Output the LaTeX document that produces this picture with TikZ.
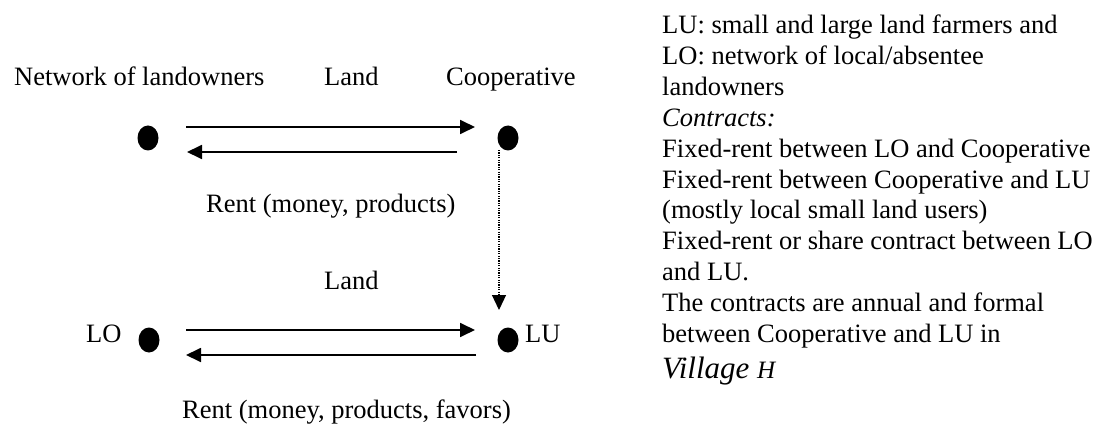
\documentclass[tikz,border=0pt]{standalone}
\usepackage{fontspec}
\setmainfont{Liberation Serif}
\usetikzlibrary{arrows.meta,shapes.geometric}
\begin{document}
\begin{tikzpicture}[x=1pt,y=-1pt,
  dot/.style={ellipse,fill=black,inner sep=0pt,minimum width=21pt,minimum height=25pt},
  lbl/.style={inner sep=0pt,anchor=base west,font=\fontsize{26.5}{31.5}\selectfont},
  arr/.style={line width=1.8pt,-{Triangle[length=15pt,width=14pt]}},
  dotarr/.style={line width=1.2pt,dash pattern=on 1.2pt off 1.2pt,-{Triangle[length=15pt,width=14pt]}}]
\useasboundingbox (0,0) rectangle (1098,425);
% dots
\node[dot] (nlo) at (148,138) {};
\node[dot] (coop) at (508,138) {};
\node[dot] (lo) at (149,340) {};
\node[dot] (lu) at (508,340) {};
% labels
\node[lbl] (tnet) at (14,86) {Network of landowners};
\node[lbl] (tland1) at (324,86) {Land};
\node[lbl] (tcoop) at (446,86) {Cooperative};
\node[lbl] (trent1) at (206,212) {Rent (money, products)};
\node[lbl] (tland2) at (324,289) {Land};
\node[lbl] (tlo) at (86,342) {LO};
\node[lbl] (tlu) at (525,342) {LU};
\node[lbl] (trent2) at (182,418) {Rent (money, products, favors)};
% arrows
\draw[arr] ([shift={(38,-11)}]nlo.center) -- ([shift={(-33,-11)}]coop.center);
\draw[arr] ([shift={(-51,14)}]coop.center) -- ([shift={(39,14)}]nlo.center);
\draw[arr] ([shift={(37,-10)}]lo.center) -- ([shift={(-33,-10)}]lu.center);
\draw[arr] ([shift={(-32,15)}]lu.center) -- ([shift={(37,15)}]lo.center);
\draw[dotarr] ([shift={(-9,12)}]coop.center) -- ([shift={(-9,-30)}]lu.center);
% right column
\foreach \t [count=\i] in {{LU: small and large land farmers and},{LO: network of local/absentee},{landowners},{\textit{Contracts:}},{Fixed-rent between LO and Cooperative},{Fixed-rent between Cooperative and LU},{(mostly local small land users)},{Fixed-rent or share contract between LO},{and LU.},{The contracts are annual and formal},{between Cooperative and LU in}}
  \node[lbl] (r\i) at (662,{34+30.8*(\i-1)}) {\t};
\node[inner sep=0pt,anchor=base west,font=\fontsize{31}{36}\selectfont\itshape] (r12) at (662,378) {Village {\fontsize{25}{30}\selectfont H}};
\end{tikzpicture}
\end{document}
